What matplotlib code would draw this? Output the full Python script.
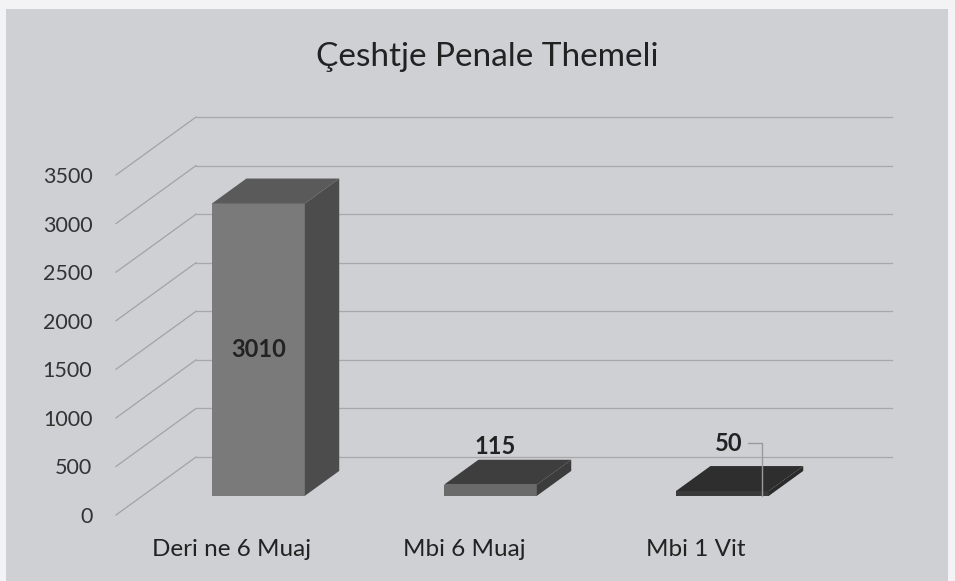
import matplotlib.pyplot as plt
from matplotlib.patches import Polygon, Rectangle
import numpy as np

plt.rcParams['font.family'] = ['Lato', 'DejaVu Sans']

# data
categories = ['Deri ne 6 Muaj', 'Mbi 6 Muaj', 'Mbi 1 Vit']
values = [3010, 115, 50]
yticks = [0, 500, 1000, 1500, 2000, 2500, 3000, 3500]
title = 'Çeshtje Penale Themeli'

# fake 3d: oblique shift for depth 0 (front) .. 1 (back wall)
kx = 0.345      # x shift (category units) at full depth
ky = 597        # y shift (value units) at full depth
d0, d1 = 0.33, 0.76   # bar front / back depth
w = 0.40

front_cols = ['#7a7a7a', '#6a6a6a', '#3a3a3a']
side_cols = ['#4c4c4c', '#3c3c3c', '#2a2a2a']
top_cols = ['#5a5a5a', '#3e3e3e', '#2e2e2e']

fig = plt.figure(figsize=(9.55, 5.81), dpi=100, facecolor='#f3f3f5')
fig.patches.append(Rectangle((6/955, 0), 942/955, 1 - 9/581, transform=fig.transFigure,
                             facecolor='#cfd0d3', edgecolor='none', zorder=-1))

ax = fig.add_axes([116/955, 66/581, 696/955, 340/581])
ax.set_facecolor('none')
ax.set_xlim(-0.5, 2.5)
ax.set_ylim(0, 3500)
for s in ax.spines.values():
    s.set_visible(False)

# walls: diagonal lines + back gridlines
x_left, x_right = -0.5, len(categories) - 0.5
for v in yticks:
    ax.plot([x_left, x_left + kx], [v, v + ky], color='#a3a3a6', lw=0.9, clip_on=False, zorder=1)
    ax.plot([x_left + kx, x_right + kx], [v + ky, v + ky], color='#a8a8ab', lw=0.9, clip_on=False, zorder=1)

x = np.arange(len(categories))
xf = x + d0 * kx
ax.bar(xf, values, width=w, bottom=d0 * ky, color=front_cols, edgecolor='none', zorder=3, clip_on=False)
for i, v in enumerate(values):
    l, r = xf[i] - w / 2, xf[i] + w / 2
    b, t = d0 * ky, v + d0 * ky
    dx, dy = (d1 - d0) * kx, (d1 - d0) * ky
    ax.add_patch(Polygon([(r, b), (r + dx, b + dy), (r + dx, t + dy), (r, t)],
                         closed=True, facecolor=side_cols[i], edgecolor='none', zorder=3, clip_on=False))
    ax.add_patch(Polygon([(l, t), (r, t), (r + dx, t + dy), (l + dx, t + dy)],
                         closed=True, facecolor=top_cols[i], edgecolor='none', zorder=3, clip_on=False))

# data labels
ax.text(xf[0], values[0] / 2 + d0 * ky, str(values[0]), ha='center', va='center',
        fontsize=17, fontweight='bold', color='#222222', zorder=5)
ax.annotate(str(values[1]), xy=(xf[1] + 0.02, values[1] + d1 * ky), xytext=(0, 1),
            textcoords='offset points', ha='center', va='bottom',
            fontsize=17, fontweight='bold', color='#222222', zorder=5)
ax.annotate(str(values[2]), xy=(xf[2] + 0.17, d0 * ky), xytext=(-24, 38),
            textcoords='offset points', ha='center', va='center',
            fontsize=17, fontweight='bold', color='#222222', zorder=5,
            arrowprops=dict(arrowstyle='-', color='#9a9a9a', lw=1,
                            connectionstyle='angle,angleA=0,angleB=90,rad=0',
                            shrinkA=2, shrinkB=0))

ax.set_yticks(yticks)
ax.set_yticklabels([str(v) for v in yticks], fontsize=15.5, color='#333333')
ax.set_xticks(x)
ax.set_xticklabels(categories, fontsize=17.5, color='#222222')
ax.tick_params(axis='y', length=0, pad=17)
ax.tick_params(axis='x', length=0, pad=17)

fig.text(487/955, 1 - 57/581, title, ha='center', va='center', fontsize=24, color='#222222')

fig.savefig('out.png', dpi=100, facecolor=fig.get_facecolor())
